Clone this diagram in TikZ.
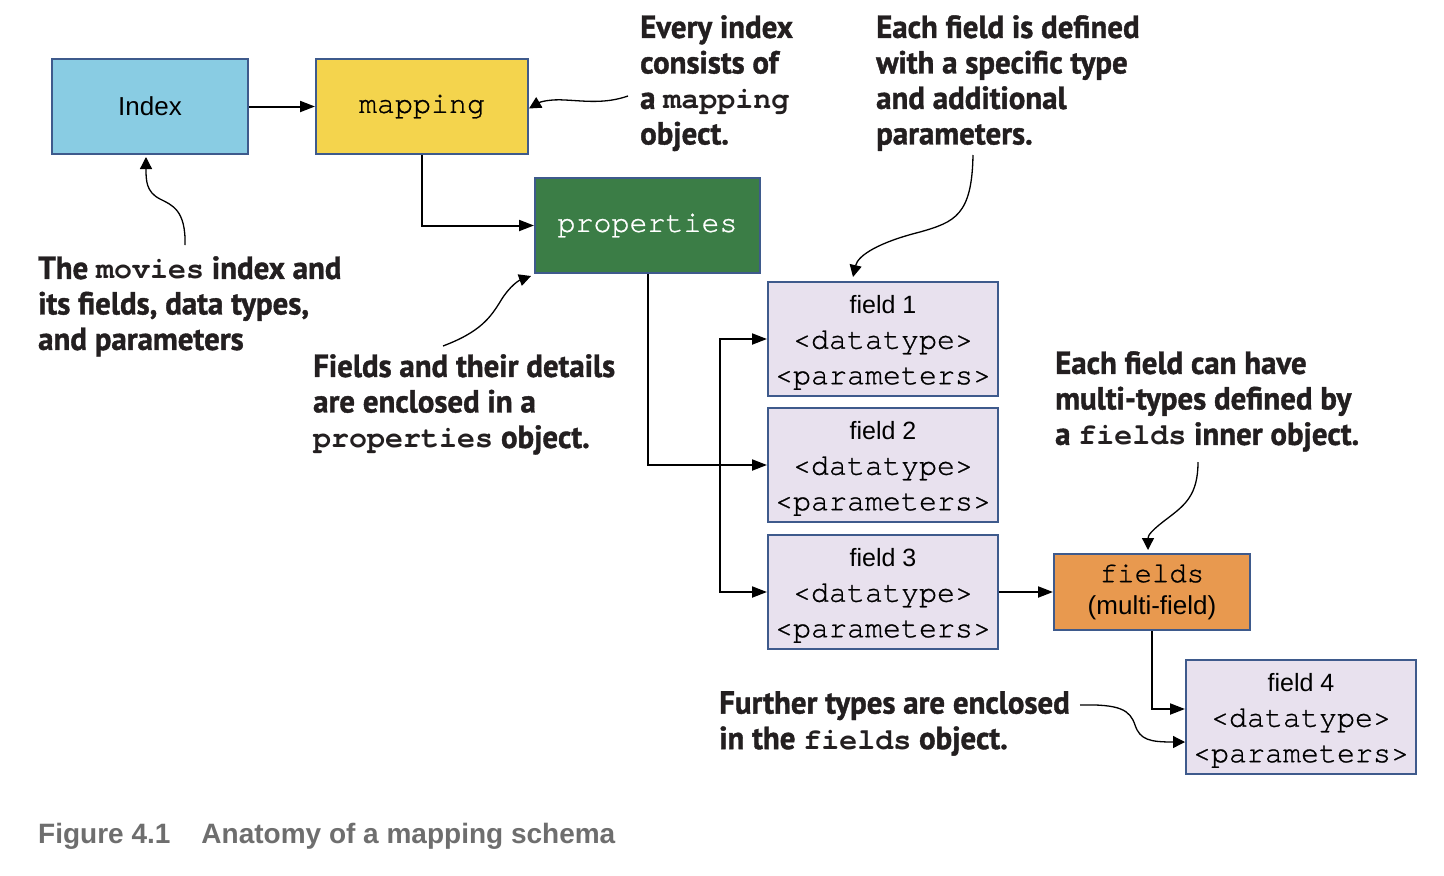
\documentclass[tikz,border=0pt]{standalone}
\usepackage{fontspec}
\setmainfont{Liberation Sans}
\newfontfamily\annofont[FakeStretch=0.965,FakeBold=1.2]{PT Sans}
\newfontfamily\mymono{texgyrecursor}[Extension=.otf, UprightFont=*-regular, BoldFont=*-bold, Ligatures=NoCommon]
\newfontfamily\boxmono{texgyrecursor}[Extension=.otf, UprightFont=*-regular, BoldFont=*-bold, Ligatures=NoCommon, FakeBold=0.8]
\usetikzlibrary{arrows.meta}
\definecolor{boxblue}{RGB}{62,90,140}
\definecolor{idxblue}{RGB}{137,204,227}
\definecolor{mapyellow}{RGB}{244,212,77}
\definecolor{propgreen}{RGB}{59,125,70}
\definecolor{fieldlav}{RGB}{232,225,238}
\definecolor{fieldsorange}{RGB}{232,153,79}
\definecolor{notecol}{RGB}{35,31,32}
\definecolor{capgray}{RGB}{110,110,110}
\newcommand\mycode[1]{{\mymono\bfseries\fontsize{30}{35.5}\selectfont #1}}
\newcommand\fldtxt[1]{{\rmfamily\fontsize{25}{35}\selectfont\rule{0pt}{25pt}#1}\\<datatype>\\<parameters>}
\tikzset{
  box/.style={draw=boxblue, line width=2pt, inner sep=0pt, align=center},
  fieldbox/.style={box, fill=fieldlav, minimum width=230pt, minimum height=114pt,
    font=\boxmono\fontsize{30}{35.5}\selectfont},
  conn/.style={draw=black, line width=2pt, -{Triangle[length=15pt,width=11pt]}},
  anno/.style={draw=black, line width=1.3pt, -{Triangle[length=12pt,width=12pt]}},
  note/.style={anchor=north west, inner sep=0pt, align=left, text=notecol,
    font=\annofont\bfseries\fontsize{32}{35.5}\selectfont}
}
\begin{document}
\begin{tikzpicture}[x=1pt,y=-1pt]
\useasboundingbox (0,0) rectangle (1444,876);
\fill[white] (0,0) rectangle (1444,876);
% boxes
\node[box, fill=idxblue, minimum width=196pt, minimum height=95pt,
  font=\fontsize{26}{30}\selectfont] (index) at (150,106.5) {Index};
\node[box, fill=mapyellow, minimum width=212pt, minimum height=95pt,
  font=\boxmono\fontsize{30}{34}\selectfont] (mapping) at (422,106.5) {\raisebox{-1pt}{mapping}};
\node[box, fill=propgreen, text=white, minimum width=225pt, minimum height=95pt,
  font=\boxmono\fontsize{30}{34}\selectfont] (props) at (647.5,225.5) {properties};
\node[fieldbox] (f1) at (883,339) {\fldtxt{field 1}};
\node[fieldbox] (f2) at (883,465) {\fldtxt{field 2}};
\node[fieldbox] (f3) at (883,592) {\fldtxt{field 3}};
\node[box, fill=fieldsorange, minimum width=196pt, minimum height=76pt,
  font=\boxmono\fontsize{29}{32}\selectfont] (fields) at (1152,592)
  {fields\\{\rmfamily\fontsize{26}{32}\selectfont (multi-field)}};
\node[fieldbox] (f4) at (1301,717) {\fldtxt{field 4}};
% connectors
\draw[conn] (index) -- (mapping);
\draw[conn] (mapping.south) |- (props.west);
\draw[conn] (props.south) |- (f2.west);
\coordinate (jn) at (720,465);
\draw[conn] (jn) |- (f1.west);
\draw[conn] (jn) |- (f3.west);
\draw[conn] (f3) -- (fields);
\draw[conn] (fields.south) |- ([yshift=8pt]f4.west);
% notes
\node[note] (n1) at (640,15) {Every index\\consists of\\a \mycode{mapping}\\object.};
\node[note] (n2) at (876,15) {Each field is defined\\with a specific type\\and additional\\parameters.};
\node[note] (n3) at (38,256) {The \mycode{movies} index and\\its fields, data types,\\and parameters};
\node[note] (n4) at (313,354) {Fields and their details\\are enclosed in a\\\mycode{properties} object.};
\node[note] (n5) at (1055,351) {Each field can have\\multi-types defined by\\a \mycode{fields} inner object.};
\node[note] (n6) at (719,691) {Further types are enclosed\\in the \mycode{fields} object.};
\node[anchor=north west, inner sep=0pt, text=capgray,
  font=\bfseries\fontsize{28}{32}\selectfont] (cap) at (38,823)
  {Figure 4.1\hspace{31pt}Anatomy of a mapping schema};
% annotation arrows
\coordinate (s1) at (628,96);
\coordinate (s2) at (973,155);
\coordinate (s3) at (185,245);
\coordinate (s4) at (443,346);
\coordinate (s5) at (1198,462);
\coordinate (s6) at (1080,705);
\draw[anno] (s1) .. controls (605,104) and (585,101) .. (565,100)
  .. controls (550,99) and (540,102) .. ([yshift=-2pt]mapping.east);
\draw[anno] (s2) .. controls (972,215) and (955,222) .. (920,232)
  .. controls (880,242) and (858,255) .. ([xshift=-30pt,yshift=4pt]f1.north);
\draw[anno] (s3) .. controls (186,210) and (172,205) .. (160,199)
  .. controls (146,192) and (146,180) .. ([xshift=-4pt,yshift=-2pt]index.south);
\draw[anno] (s4) .. controls (480,332) and (490,318) .. (500,302)
  .. controls (510,285) and (520,280) .. ([xshift=-3pt,yshift=-2pt]props.south west);
\draw[anno] (s5) .. controls (1198,495) and (1185,505) .. (1168,518)
  .. controls (1152,530) and (1148,535) .. ([xshift=-4pt,yshift=3pt]fields.north);
\draw[anno] (s6) .. controls (1120,704) and (1130,710) .. (1135,725)
  .. controls (1140,740) and (1150,742) .. ([yshift=-25pt]f4.west);
\end{tikzpicture}
\end{document}
